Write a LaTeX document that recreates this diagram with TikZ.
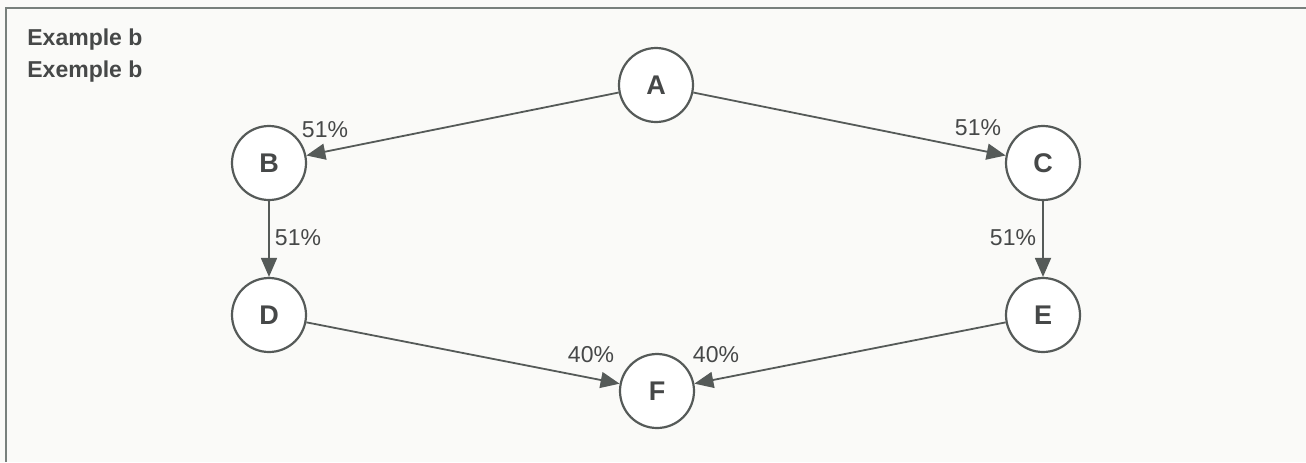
\documentclass[tikz,border=0pt]{standalone}
\usepackage{fontspec}
\setmainfont{Liberation Sans}
\usetikzlibrary{arrows.meta}
\definecolor{framec}{RGB}{120,128,124}
\definecolor{linec}{RGB}{85,90,88}
\definecolor{txtc}{RGB}{70,72,72}
\definecolor{bgc}{RGB}{250,250,248}
\tikzset{
  vertex/.style={circle, draw=linec, line width=1.1pt, fill=white, minimum size=37pt, inner sep=0pt, text=txtc, font=\fontsize{13.5}{15}\selectfont\bfseries},
  arr/.style={draw=linec, line width=0.9pt, -{Triangle[length=9.5pt,width=8pt]}},
  pct/.style={text=txtc, inner sep=0pt, font=\fontsize{11.5}{13}\selectfont},
  title/.style={text=txtc, inner sep=0pt, anchor=west, font=\fontsize{11.5}{13}\selectfont\bfseries}
}
\begin{document}
\begin{tikzpicture}[x=0.5pt,y=-0.5pt]
\useasboundingbox (0,0) rectangle (1306,462);
\fill[bgc] (0,0) rectangle (1306,462);
\draw[framec, line width=1.4pt] (6,462) -- (6,8) -- (1306,8);
\node[title] (t1) at (27,40) {Example b};
\node[title] (t2) at (27,72) {Exemple b};
\node[vertex] (A) at (656,85) {A};
\node[vertex] (B) at (269,163) {B};
\node[vertex] (C) at (1043,163) {C};
\node[vertex] (D) at (269,315) {D};
\node[vertex] (E) at (1043,315) {E};
\node[vertex] (F) at (657,391) {F};
\draw[arr] (A) -- (B);
\draw[arr] (A) -- (C);
\draw[arr] (B) -- (D);
\draw[arr] (C) -- (E);
\draw[arr] (D) -- (F);
\draw[arr] (E) -- (F);
\node[pct] (l1) at (325,130) {51\%};
\node[pct] (l2) at (978,128) {51\%};
\node[pct] (l3) at (298,238) {51\%};
\node[pct] (l4) at (1013,238) {51\%};
\node[pct] (l5) at (591,355) {40\%};
\node[pct] (l6) at (716,355) {40\%};
\end{tikzpicture}
\end{document}
